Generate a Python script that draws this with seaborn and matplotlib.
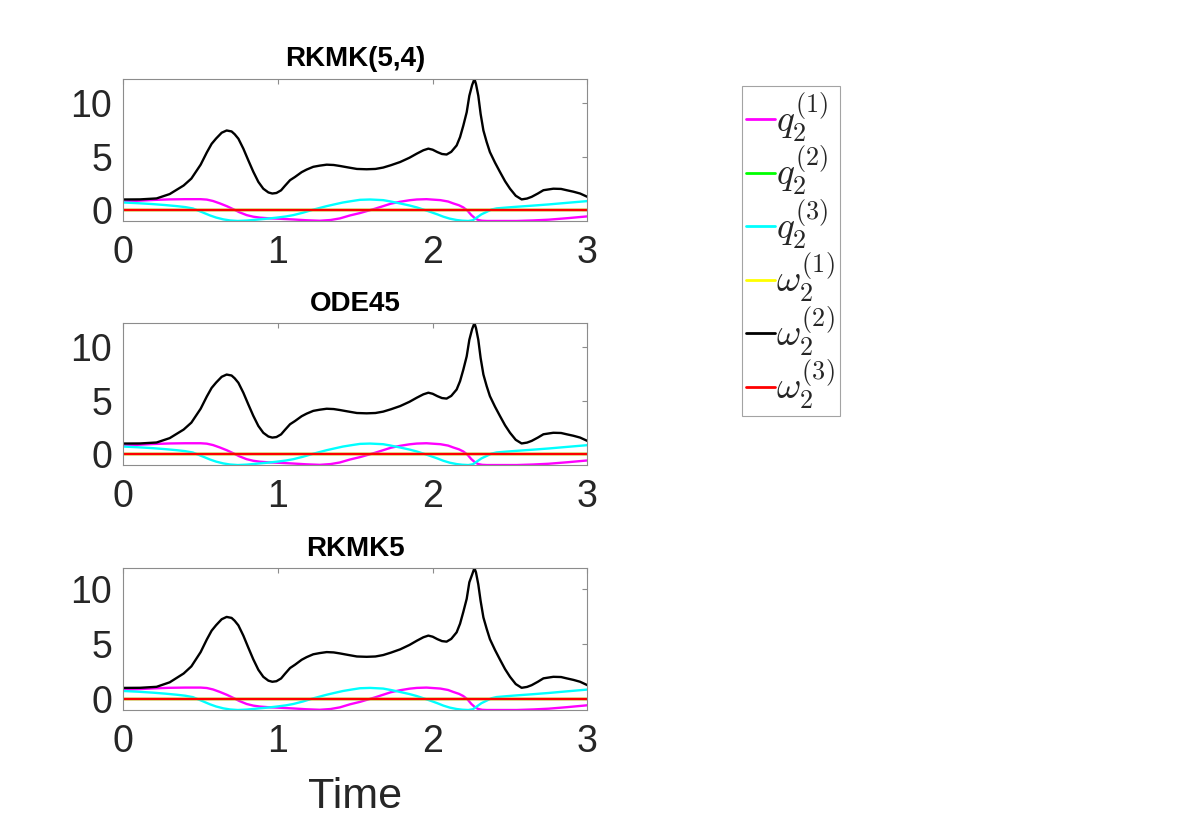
import matplotlib
matplotlib.use("Agg")
import matplotlib.pyplot as plt
import seaborn as sns
import numpy as np
import pandas as pd

# values (time in s)
methods = ["RKMK(5,4)", "ODE45", "RKMK5"]

t_w2 = [0, 0.108, 0.215, 0.30, 0.39, 0.44, 0.50, 0.54, 0.571, 0.60,
        0.636, 0.668, 0.70, 0.72, 0.744, 0.776, 0.808, 0.84, 0.873, 0.905,
        0.938, 0.963, 0.99, 1.02, 1.045, 1.078, 1.11, 1.153, 1.185, 1.228,
        1.27, 1.315, 1.36, 1.40, 1.45, 1.51, 1.573, 1.63, 1.68, 1.73,
        1.79, 1.85, 1.897, 1.94, 1.972, 2.0, 2.03, 2.06, 2.09, 2.12,
        2.155, 2.177, 2.198, 2.22, 2.237, 2.255, 2.27, 2.28, 2.295, 2.31,
        2.328, 2.349, 2.37, 2.403, 2.435, 2.468, 2.5, 2.537, 2.575, 2.61,
        2.64, 2.68, 2.716, 2.78, 2.83, 2.866, 2.91, 2.953, 3.0]
w2_rkmk54 = [0.99, 1.0, 1.09, 1.5, 2.3, 2.95, 4.25, 5.4, 6.2, 6.7,
             7.24, 7.45, 7.36, 7.1, 6.68, 5.75, 4.66, 3.6, 2.64, 2.0,
             1.65, 1.55, 1.6, 1.85, 2.27, 2.8, 3.1, 3.55, 3.79, 4.05,
             4.16, 4.25, 4.22, 4.13, 4.0, 3.85, 3.82, 3.85, 3.98, 4.2,
             4.5, 4.9, 5.28, 5.6, 5.75, 5.65, 5.43, 5.25, 5.2, 5.45,
             6.05, 6.83, 7.9, 9.16, 10.7, 11.7, 12.27, 11.8, 10.7, 9.0,
             7.45, 6.37, 5.43, 4.44, 3.57, 2.7, 2.0, 1.34, 1.0, 1.08,
             1.24, 1.55, 1.86, 2.0, 1.98, 1.86, 1.72, 1.55, 1.24]
w2_ode45 = [0.99, 1.0, 1.09, 1.5, 2.3, 2.95, 4.25, 5.4, 6.2, 6.7,
            7.24, 7.45, 7.36, 7.1, 6.68, 5.75, 4.66, 3.6, 2.64, 2.0,
            1.65, 1.55, 1.6, 1.85, 2.27, 2.8, 3.1, 3.55, 3.79, 4.05,
            4.16, 4.25, 4.22, 4.13, 4.0, 3.85, 3.82, 3.85, 3.98, 4.2,
            4.5, 4.9, 5.28, 5.6, 5.75, 5.65, 5.43, 5.25, 5.2, 5.45,
            6.05, 6.83, 7.9, 9.16, 10.7, 11.7, 12.27, 11.8, 10.7, 9.0,
            7.45, 6.37, 5.43, 4.44, 3.57, 2.7, 2.0, 1.34, 1.0, 1.08,
            1.24, 1.55, 1.86, 2.0, 1.98, 1.86, 1.72, 1.55, 1.24]
w2_rkmk5 = [0.99, 1.0, 1.09, 1.5, 2.3, 2.95, 4.25, 5.4, 6.2, 6.7,
            7.24, 7.45, 7.36, 7.1, 6.68, 5.75, 4.66, 3.6, 2.64, 2.0,
            1.65, 1.55, 1.6, 1.85, 2.27, 2.8, 3.1, 3.55, 3.79, 4.05,
            4.16, 4.25, 4.22, 4.13, 4.0, 3.85, 3.82, 3.85, 3.98, 4.2,
            4.5, 4.9, 5.28, 5.6, 5.75, 5.65, 5.43, 5.25, 5.2, 5.45,
            6.05, 6.83, 7.9, 9.1, 10.6, 11.3, 11.9, 11.5, 10.4, 8.9,
            7.4, 6.37, 5.43, 4.44, 3.57, 2.7, 2.0, 1.34, 1.0, 1.08,
            1.24, 1.55, 1.86, 2.0, 1.98, 1.86, 1.72, 1.55, 1.24]

t_q1 = [0, 0.1, 0.2, 0.3, 0.4, 0.5, 0.54, 0.58, 0.625, 0.67,
        0.71, 0.75, 0.797, 0.84, 0.884, 0.94, 0.99, 1.1, 1.18, 1.27,
        1.34, 1.4, 1.466, 1.53, 1.573, 1.63, 1.68, 1.73, 1.79, 1.85,
        1.897, 1.96, 2.05, 2.1, 2.134, 2.17, 2.198, 2.225, 2.25, 2.275,
        2.295, 2.32, 2.35, 2.45, 2.543, 2.65, 2.75, 2.87, 3.0]
q1 = [0.8, 0.88, 0.95, 1.0, 1.02, 1.02, 0.98, 0.85, 0.62, 0.36,
      0.09, -0.2, -0.47, -0.62, -0.71, -0.77, -0.8, -0.88, -0.95, -1.0,
      -0.93, -0.78, -0.5, -0.28, -0.1, 0.14, 0.37, 0.6, 0.78, 0.92,
      0.99, 1.02, 0.93, 0.8, 0.62, 0.45, 0.25, -0.05, -0.47, -0.78,
      -0.93, -1.0, -1.02, -1.02, -1.02, -0.97, -0.9, -0.76, -0.59]

t_q3 = [0, 0.1, 0.19, 0.27, 0.345, 0.40, 0.45, 0.51, 0.56, 0.6,
        0.647, 0.69, 0.74, 0.8, 0.86, 0.92, 0.99, 1.05, 1.1, 1.16,
        1.218, 1.27, 1.315, 1.37, 1.42, 1.48, 1.53, 1.595, 1.68, 1.73,
        1.79, 1.85, 1.897, 1.94, 1.983, 2.03, 2.069, 2.11, 2.155, 2.19,
        2.23, 2.26, 2.284, 2.315, 2.35, 2.38, 2.414, 2.48, 2.543, 2.65,
        2.75, 2.87, 3.0]
q3 = [0.71, 0.64, 0.56, 0.47, 0.37, 0.28, 0.15, -0.2, -0.5, -0.7,
      -0.87, -0.97, -1.02, -0.98, -0.9, -0.82, -0.71, -0.6, -0.47, -0.25,
      0.0, 0.2, 0.37, 0.55, 0.71, 0.85, 0.96, 0.99, 0.93, 0.8,
      0.62, 0.43, 0.25, 0.05, -0.16, -0.4, -0.62, -0.8, -0.93, -0.99,
      -1.02, -0.95, -0.71, -0.4, -0.16, 0.05, 0.16, 0.24, 0.31, 0.42,
      0.53, 0.68, 0.84]

# components that stay at zero
t_flat = [0, 3]
q2 = [0, 0]
w1 = [0, 0]
w3 = [0, 0]

labels = [r"$q_2^{(1)}$", r"$q_2^{(2)}$", r"$q_2^{(3)}$",
          r"$\omega_2^{(1)}$", r"$\omega_2^{(2)}$", r"$\omega_2^{(3)}$"]
colors = ["#ff00ff", "#00ff00", "#00ffff", "#ffff00", "#000000", "#ff0000"]

sns.set_style("white")
plt.rcParams["font.family"] = ["Liberation Sans", "DejaVu Sans"]
plt.rcParams["mathtext.fontset"] = "cm"

fig = plt.figure(figsize=(11.96, 8.16), dpi=100)
bottoms = [0.7292, 0.4301, 0.1299]
w2_all = [w2_rkmk54, w2_ode45, w2_rkmk5]

for i, name in enumerate(methods):
    ax = fig.add_axes([0.1031, bottoms[i], 0.388, 0.174])
    series = [(t_q1, q1), (t_flat, q2), (t_q3, q3), (t_flat, w1), (t_w2, w2_all[i]), (t_flat, w3)]
    for (tt, vv), lab, col in zip(series, labels, colors):
        sns.lineplot(x=tt, y=vv, ax=ax, color=col, linewidth=1.7, label=lab)
    lo = min(min(q1), min(q3))
    hi = max(w2_all[i])
    ax.set_xlim(0, 3)
    ax.set_ylim(lo, hi)
    ax.set_xticks([0, 1, 2, 3])
    ax.set_yticks([0, 5, 10])
    ax.set_title(name, fontsize=20, fontweight="bold", color="black", pad=9)
    ax.tick_params(direction="in", length=3.5, width=0.8, color="#8c8c8c",
                   labelsize=27, labelcolor="#262626", top=True, right=True)
    ax.tick_params(axis="x", pad=10)
    ax.tick_params(axis="y", pad=8)
    for sp in ax.spines.values():
        sp.set_color("#8c8c8c")
        sp.set_linewidth(0.8)
    ax.set_xlabel("")
    ax.set_ylabel("")
    handles, labs = ax.get_legend_handles_labels()
    ax.get_legend().remove()
    if i == 2:
        ax.set_xlabel("Time", fontsize=31, color="#262626", labelpad=12)

leg = fig.legend(handles, labs, loc="upper left", bbox_to_anchor=(0.6204, 0.8946),
                 borderaxespad=0, fontsize=27, frameon=True, fancybox=False,
                 edgecolor="#8c8c8c", handlelength=0.75, handletextpad=0.05,
                 labelspacing=0.0, borderpad=0.12)
leg.get_frame().set_linewidth(0.8)
for ln in leg.get_lines():
    ln.set_linewidth(2)

fig.savefig("out.png", dpi=100)
